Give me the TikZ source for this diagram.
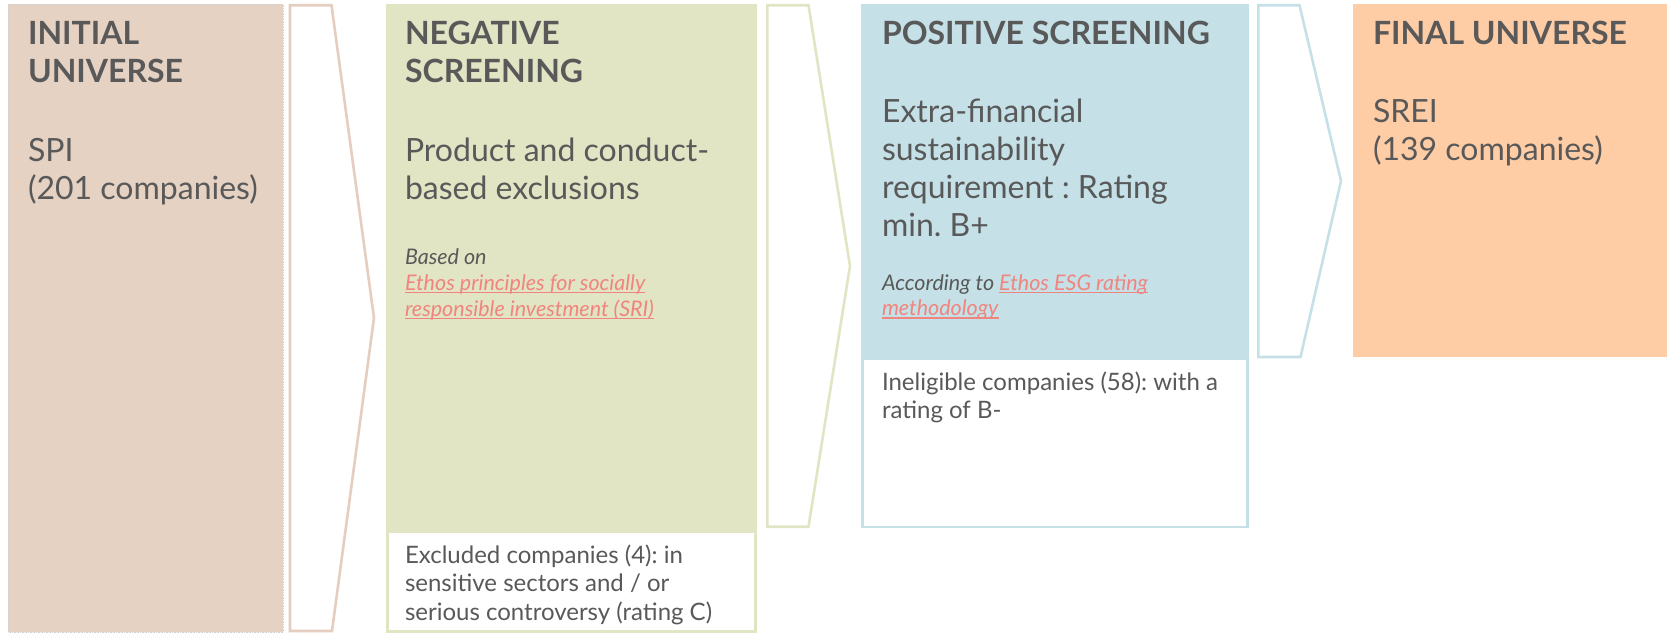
\documentclass[tikz,border=0pt]{standalone}
\usepackage{fontspec}
\setmainfont{Lato}
\frenchspacing
\definecolor{txtc}{HTML}{595959}
\definecolor{linkc}{HTML}{F0857F}
\definecolor{brownf}{HTML}{E6D2C3}
\definecolor{brownl}{HTML}{E5CEBF}
\definecolor{greenf}{HTML}{E1E5C4}
\definecolor{bluef}{HTML}{C5E1E7}
\definecolor{orangef}{HTML}{FFCDA5}
\newcommand\lnk[1]{\setbox0\hbox{#1}\rlap{\raisebox{-3pt}{\textcolor{linkc}{\rule{\wd0}{1.3pt}}}}\box0}
\newcommand\bigfont{\fontsize{32}{38}\selectfont\frenchspacing}
\newcommand\itfont{\fontsize{21.5}{26}\selectfont\itshape\frenchspacing}
\newcommand\smfont{\fontsize{24}{29}\selectfont\frenchspacing}
\tikzset{
  txt/.style={anchor=base west, inner sep=0pt, outer sep=0pt, text=txtc},
  chev/.style={line width=2.6pt, line join=miter, fill=white},
  subbox/.style={line width=2.6pt, fill=white}
}
\begin{document}
\begin{tikzpicture}[x=1pt,y=-1pt]
\useasboundingbox (0,0) rectangle (1677,634);
\fill[white] (0,0) rectangle (1677,634);
% boxes
\fill[brownf] (8,4) rectangle (283,632);
\draw[gray!35, densely dotted, line width=0.6pt] (8,4) rectangle (283,632);
\fill[greenf] (386,4) rectangle (757,532);
\draw[subbox, draw=greenf] (387.3,532) rectangle (755.7,631.7);
\fill[bluef] (861,4) rectangle (1249,359);
\draw[subbox, draw=bluef] (862.3,359) rectangle (1247.7,527);
\fill[orangef] (1353,4) rectangle (1667,357);
% chevrons
\draw[chev, draw=brownl] (290,5.3) -- (331.5,5.3) -- (374,318) -- (332,631) -- (290,631) -- cycle;
\draw[chev, draw=greenf] (767.3,5.3) -- (808.5,5.3) -- (850,266) -- (808.5,526.7) -- (767.3,526.7) -- cycle;
\draw[chev, draw=bluef] (1258.3,5.3) -- (1299.5,5.3) -- (1341,181) -- (1300.5,357) -- (1258.3,357) -- cycle;
% box 1 texts
\node[txt, font=\bigfont\bfseries] (h1) at (28,45) {\vtop{\baselineskip=38pt\hbox{INITIAL}\hbox{UNIVERSE}}};
\node[txt, font=\bigfont] (b1) at (28,161) {\vtop{\baselineskip=38pt\hbox{SPI}\hbox{(201 companies)}}};
% box 2 texts
\node[txt, font=\bigfont\bfseries] (h2) at (405,45) {\vtop{\baselineskip=38pt\hbox{NEGATIVE}\hbox{SCREENING}}};
\node[txt, font=\bigfont] (b2) at (405,161) {\vtop{\baselineskip=38pt\hbox{Product and conduct-}\hbox{based exclusions}}};
\node[txt, font=\itfont] (i2) at (405,264) {\vtop{\baselineskip=26pt\hbox{Based on}\hbox{\textcolor{linkc}{\lnk{Ethos principles for socially}}}\hbox{\textcolor{linkc}{\lnk{responsible investment (SRI)}}}}};
\node[txt, font=\smfont] (s2) at (405,563) {\vtop{\baselineskip=28.5pt\hbox{Excluded companies (4): in}\hbox{sensitive sectors and / or}\hbox{serious controversy (rating C)}}};
% box 3 texts
\node[txt, font=\bigfont\bfseries] (h3) at (882,45) {POSITIVE SCREENING};
\node[txt, font=\bigfont] (b3) at (882,122) {\vtop{\baselineskip=38.3pt\hbox{Extra-financial}\hbox{sustainability}\hbox{requirement : Rating}\hbox{min. B+}}};
\node[txt, font=\itfont] (i3) at (882,290) {\vtop{\baselineskip=25.5pt\hbox{According to \textcolor{linkc}{\lnk{Ethos ESG rating}}}\hbox{\textcolor{linkc}{\lnk{methodology}}}}};
\node[txt, font=\smfont] (s3) at (882,390) {\vtop{\baselineskip=28.5pt\hbox{Ineligible companies (58): with a}\hbox{rating of B-}}};
% box 4 texts
\node[txt, font=\bigfont\bfseries] (h4) at (1373,45) {FINAL UNIVERSE};
\node[txt, font=\bigfont] (b4) at (1373,122) {\vtop{\baselineskip=38pt\hbox{SREI}\hbox{(139 companies)}}};
\end{tikzpicture}
\end{document}
